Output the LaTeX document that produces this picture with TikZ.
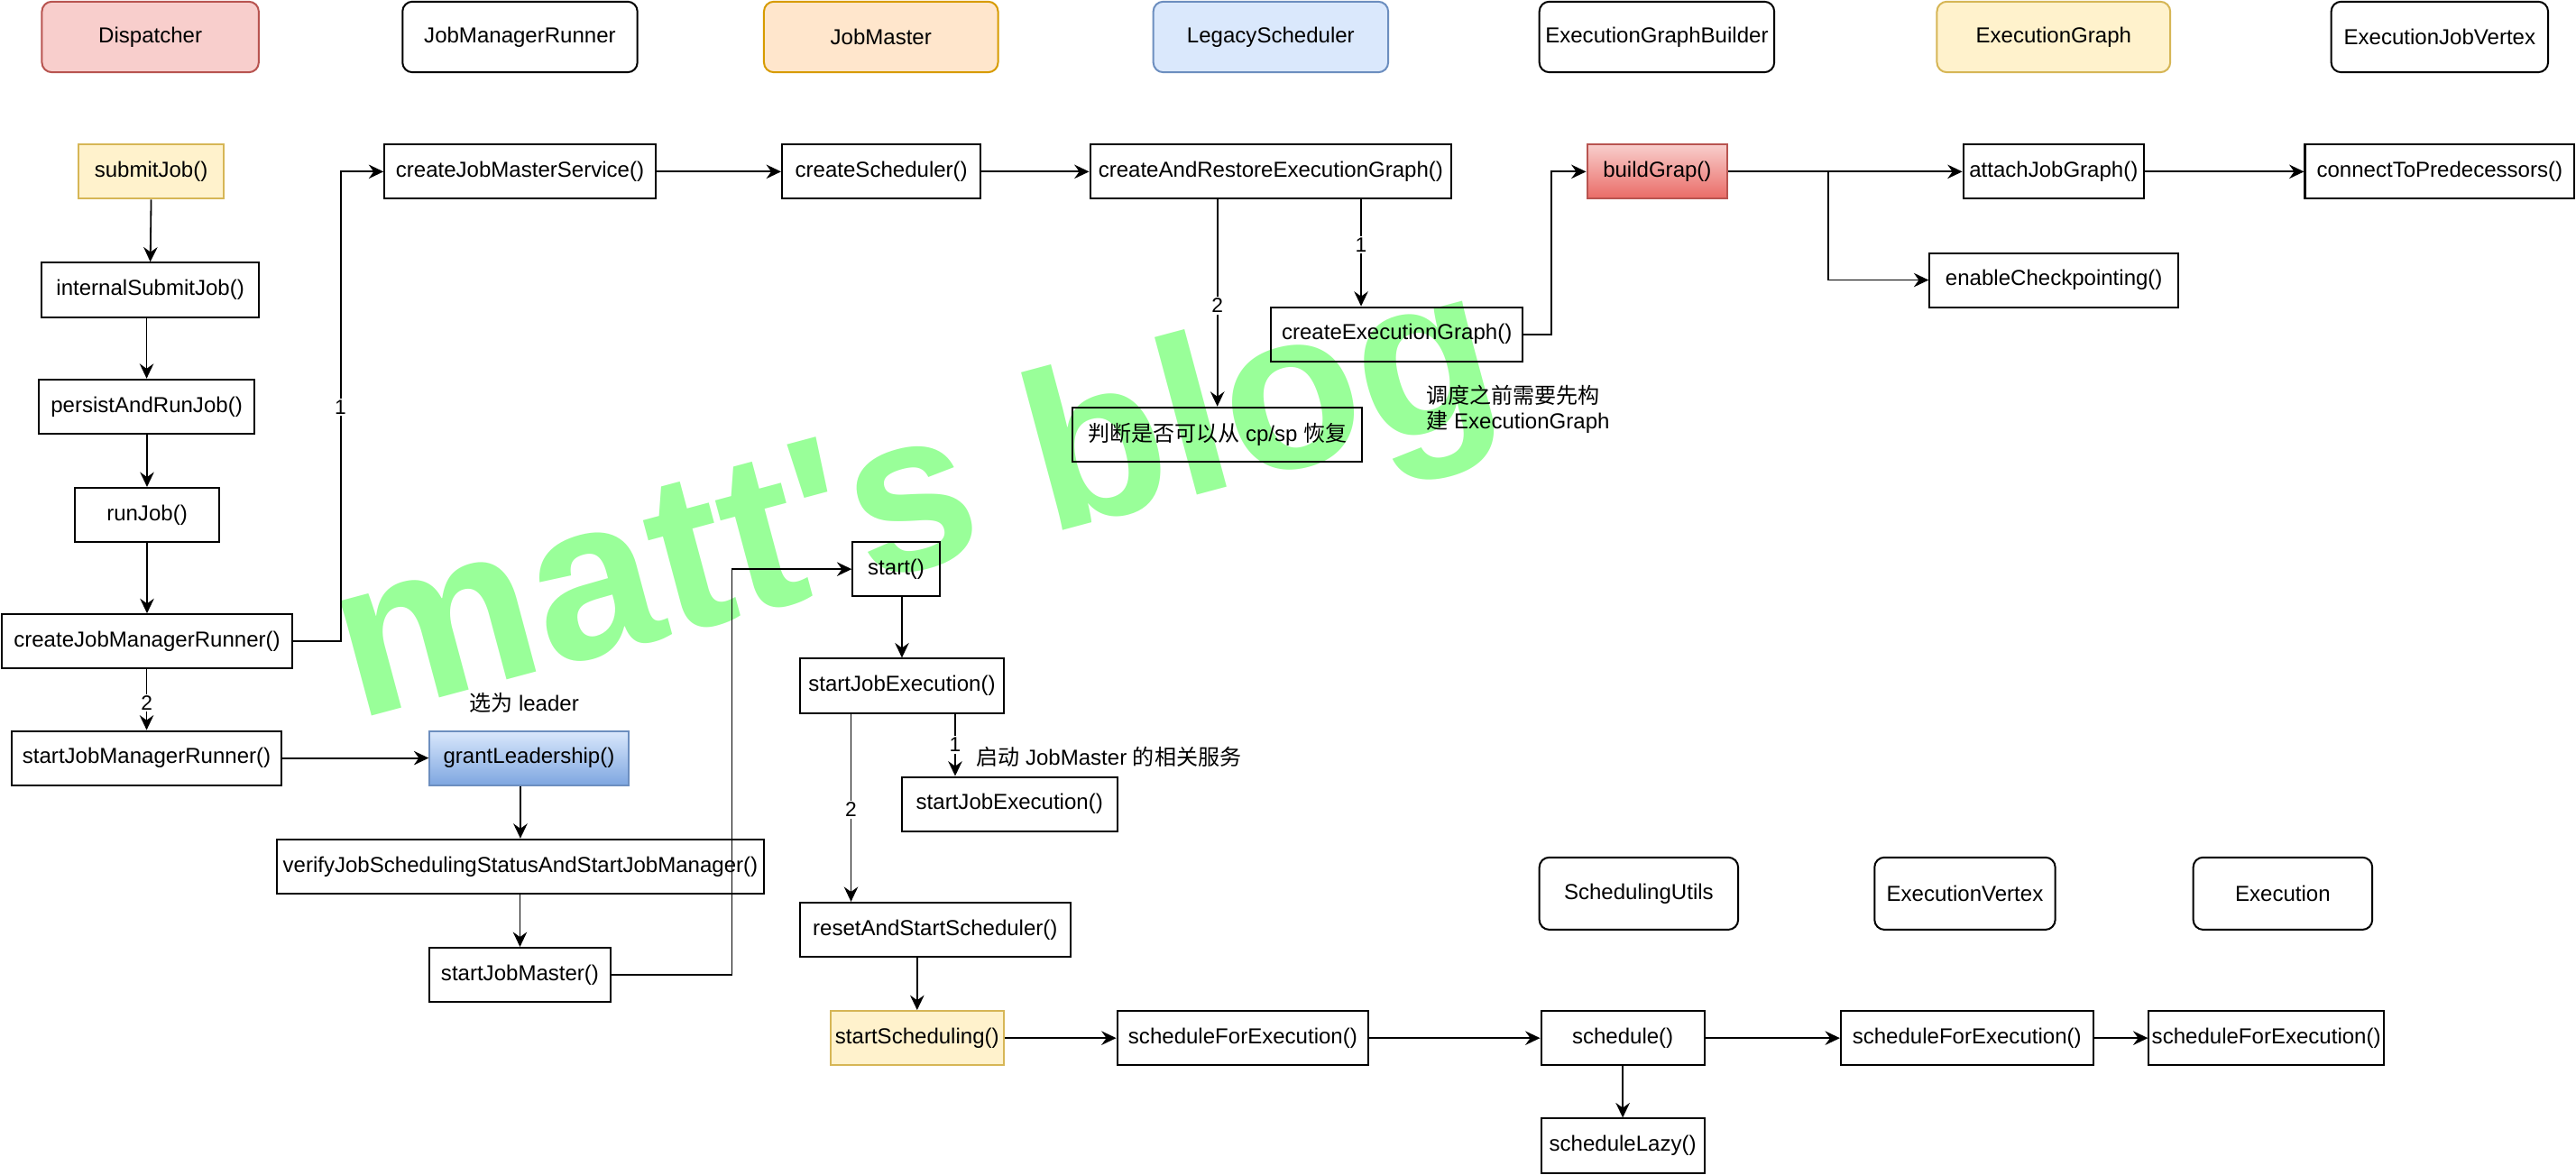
\documentclass[tikz,border=0pt]{standalone}
\usepackage{fontspec}
\setmainfont{Liberation Sans}
\newfontfamily\cjk{Noto Sans CJK SC}
\newfontfamily\wmfont{Liberation Sans}[Ligatures=TeXOff]
\usetikzlibrary{arrows.meta}
\definecolor{redF}{HTML}{F8CECC}
\definecolor{redD}{HTML}{B85450}
\definecolor{redB}{HTML}{EA6B66}
\definecolor{orF}{HTML}{FFE6CC}
\definecolor{orD}{HTML}{D79B00}
\definecolor{blF}{HTML}{DAE8FC}
\definecolor{blD}{HTML}{6C8EBF}
\definecolor{blB}{HTML}{7EA6E0}
\definecolor{ylF}{HTML}{FFF2CC}
\definecolor{ylD}{HTML}{D6B656}
\definecolor{wmgreen}{HTML}{99FF99}
\newcommand\bx[7]{%
 \pgfmathsetmacro\bxw{#4-#2}\pgfmathsetmacro\bxh{#5-#3}%
 \pgfmathsetmacro\bxcx{(#2+#4)/2}\pgfmathsetmacro\bxcy{(#3+#5)/2}%
 \node[#6,minimum width=\bxw pt,minimum height=\bxh pt] (#1) at (\bxcx,\bxcy) {#7};}
\begin{document}
\begin{tikzpicture}[x=1pt,y=-1pt,
  font=\fontsize{13.2}{15.6}\selectfont,
  base/.style={draw,line width=1.1pt,inner sep=0pt,align=center},
  fbox/.style={base},
  hdr/.style={base,rounded corners=6pt},
  hdrred/.style={hdr,fill=redF,draw=redD},
  hdror/.style={hdr,fill=orF,draw=orD},
  hdrbl/.style={hdr,fill=blF,draw=blD},
  hdryl/.style={hdr,fill=ylF,draw=ylD},
  ylbox/.style={base,fill=ylF,draw=ylD},
  redgrad/.style={base,top color=redF,bottom color=redB,draw=redD},
  blgrad/.style={base,top color=blF,bottom color=blB,draw=blD},
  conn/.style={draw,line width=1pt,-{Stealth[length=9pt,width=8.5pt,inset=3pt]}},
  lbl/.style={fill=white,inner sep=1pt,font=\fontsize{12.5}{14}\selectfont},
  note/.style={inner sep=0pt}]
\useasboundingbox (0,0) rectangle (1568,715);

% watermark
\node[font=\wmfont\bfseries\fontsize{137}{137}\selectfont,text=wmgreen,rotate=15,anchor=base,inner sep=0pt] (wm) at (567.6,344.5) {matt's blog};

% headers
\bx{hDisp}{25.5}{1}{157.5}{44}{hdrred}{Dispatcher}
\bx{hJMR}{245}{1}{388}{44}{hdr}{JobManagerRunner}
\bx{hJM}{465}{1}{607.5}{44}{hdror}{JobMaster}
\bx{hLS}{702}{1}{845}{44}{hdrbl}{LegacyScheduler}
\bx{hEGB}{937}{1}{1080}{44}{hdr}{ExecutionGraphBuilder}
\bx{hEG}{1179}{1}{1321}{44}{hdryl}{ExecutionGraph}
\bx{hEJV}{1419}{1}{1551}{44}{hdr}{ExecutionJobVertex}
\bx{hSU}{937}{522}{1058}{566}{hdr}{SchedulingUtils}
\bx{hEV}{1141}{522}{1251}{566}{hdr}{ExecutionVertex}
\bx{hEx}{1335}{522}{1444}{566}{hdr}{Execution}

% boxes
\bx{submit}{48}{88}{136}{121}{ylbox}{submitJob()}
\bx{isj}{25.5}{160}{157.5}{193}{fbox}{internalSubmitJob()}
\bx{parj}{23.5}{231}{155}{264}{fbox}{persistAndRunJob()}
\bx{rj}{45.5}{297}{133.5}{330}{fbox}{runJob()}
\bx{cjmr}{1}{374}{178}{407}{fbox}{createJobManagerRunner()}
\bx{sjmr}{7}{445}{171.5}{478}{fbox}{startJobManagerRunner()}
\bx{grant}{261.5}{445}{382.5}{478}{blgrad}{grantLeadership()}
\bx{verify}{168.5}{511}{465}{544}{fbox}{verifyJobSchedulingStatusAndStartJobManager()}
\bx{sjm}{261.5}{577}{371.5}{610}{fbox}{startJobMaster()}
\bx{cjms}{234}{88}{399}{121}{fbox}{createJobMasterService()}
\bx{cs}{476}{88}{597}{121}{fbox}{createScheduler()}
\bx{car}{663.5}{88}{883.5}{121}{fbox}{createAndRestoreExecutionGraph()}
\bx{ceg}{773.5}{187}{927}{220}{fbox}{createExecutionGraph()}
\bx{judge}{653}{248}{829}{281}{fbox}{{\cjk 判断是否可以从} cp/sp {\cjk 恢复}}
\bx{bg}{966}{88}{1051.5}{121}{redgrad}{buildGrap()}
\bx{ajg}{1195}{88}{1305}{121}{fbox}{attachJobGraph()}
\bx{ctp}{1403}{88}{1567}{121}{fbox}{connectToPredecessors()}
\bx{ec}{1174.5}{154}{1326}{187}{fbox}{enableCheckpointing()}
\bx{start}{519}{330}{572}{363}{fbox}{start()}
\bx{sje}{487}{401}{611}{434}{fbox}{startJobExecution()}
\bx{sjeb}{549}{473}{680}{506}{fbox}{startJobExecution()}
\bx{rss}{487}{549.5}{651.5}{582.5}{fbox}{resetAndStartScheduler()}
\bx{ss}{505.5}{615.5}{611}{648.5}{ylbox}{startScheduling()}
\bx{sfea}{680}{615.5}{833}{648.5}{fbox}{scheduleForExecution()}
\bx{sch}{938}{615.5}{1037.5}{648.5}{fbox}{schedule()}
\bx{sl}{938}{681}{1037.5}{714}{fbox}{scheduleLazy()}
\bx{sfeb}{1120.5}{615.5}{1274}{648.5}{fbox}{scheduleForExecution()}
\bx{sfec}{1308}{615.5}{1451}{648.5}{fbox}{scheduleForExecution()}

% notes
\node[note] (nLeader) at (319,428) {{\cjk 选为} leader};
\node[note,anchor=west] (nStart) at (594,461) {{\cjk 启动} JobMaster {\cjk 的相关服务}};
\node[note,anchor=west,align=left] (nSched) at (868,249) {{\cjk 调度之前需要先构}\\{\cjk 建} ExecutionGraph};

% helper coordinates
\coordinate (xa) at (828.5,0);
\coordinate (xb) at (581.4,0);
\coordinate (xc) at (518,0);
\coordinate (jx) at (1112.8,0);

% connectors
\draw[conn] (submit.south) -- (isj.north);
\draw[conn] (isj.south -| parj.north) -- (parj.north);
\draw[conn] (parj.south -| rj.north) -- (rj.north);
\draw[conn] (rj.south) -- (cjmr.north);
\draw[conn] (cjmr.south -| sjmr.north) -- (sjmr.north);
\node[lbl] (l2a) at (89.3,428) {2};
\draw[conn] (cjmr.east) -- ++(29,0) |- (cjms.west);
\node[lbl] (l1a) at (207.2,248) {1};
\draw[conn] (cjms.east) -- (cs.west);
\draw[conn] (cs.east) -- (car.west);
\draw[conn] (car.south -| xa) -- (ceg.north -| xa);
\node[lbl] (l1b) at (828.5,149) {1};
\draw[conn] (car.south -| judge.north) -- (judge.north);
\node[lbl] (l2b) at (741,186) {2};
\draw[conn] (ceg.east) -- ++(16.6,0) |- (bg.west);
\draw[conn] (bg.east) -- (ajg.west);
\draw[conn] (bg.east -| jx) |- (ec.west);
\draw[conn] (ajg.east) -- (ctp.west);
\draw[conn] (sjmr.east) -- (grant.west);
\draw[conn] (grant.south -| verify.north) -- (verify.north);
\draw[conn] (verify.south -| sjm.north) -- (sjm.north);
\draw[conn] (sjm.east) -- ++(73.5,0) |- (start.west);
\draw[conn] (start.south -| sje.north) -- (sje.north);
\draw[conn] (sje.south -| xb) -- (sjeb.north -| xb);
\node[lbl] (l1c) at (581.4,453.5) {1};
\draw[conn] (sje.south -| xc) -- (rss.north -| xc);
\node[lbl] (l2c) at (518,493) {2};
\draw[conn] (rss.south -| ss.north) -- (ss.north);
\draw[conn] (ss.east) -- (sfea.west);
\draw[conn] (sfea.east) -- (sch.west);
\draw[conn] (sch.south) -- (sl.north);
\draw[conn] (sch.east) -- (sfeb.west);
\draw[conn] (sfeb.east) -- (sfec.west);
\end{tikzpicture}
\end{document}
